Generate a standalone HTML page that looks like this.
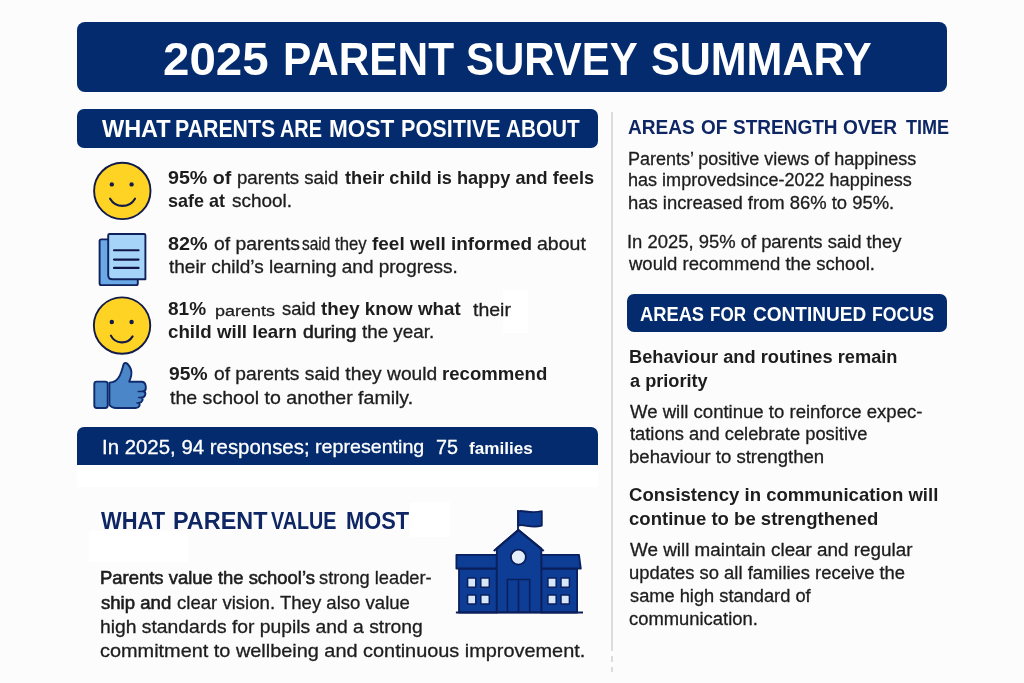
<!DOCTYPE html>
<html lang="en"><head><meta charset="utf-8"><title>2025 Parent Survey Summary</title>
<style>
html,body{margin:0;padding:0}
body{width:1024px;height:683px;position:relative;overflow:hidden;background:#fcfcfc;font-family:"Liberation Sans",Arial,sans-serif;color:#1d1d1d}
.t{position:absolute;white-space:pre;line-height:normal;transform-origin:0 0;margin:0;-webkit-text-stroke:.3px}
.b{font-weight:700;-webkit-text-stroke:0}
.t b{font-weight:700}
.bx{position:absolute;background:#032b6d}
svg{position:absolute;left:0;top:0}
.wp{position:absolute;background:#fff}
.dv{position:absolute;left:611.4px;width:1.3px;background:#dcdcdc}
</style></head><body>
<div class="wp" style="left:77px;top:465px;width:521px;height:22px"></div>
<div class="wp" style="left:89px;top:531px;width:99px;height:31px"></div>
<div class="wp" style="left:410px;top:502px;width:40px;height:35px"></div>
<div class="wp" style="left:503px;top:290px;width:25px;height:43px"></div>
<div class="bx" style="left:77px;top:22px;width:870px;height:70px;border-radius:8px"></div>
<div class="bx" style="left:77px;top:108.5px;width:520.5px;height:39px;border-radius:7px"></div>
<div class="bx" style="left:77px;top:426.6px;width:520.5px;height:38.6px;border-radius:7px 7px 0 0"></div>
<div class="bx" style="left:627.3px;top:294.2px;width:319.7px;height:37.5px;border-radius:7px"></div>
<div class="dv" style="top:112px;height:539px"></div>
<div class="dv" style="top:656px;height:6px"></div>
<div class="dv" style="top:667px;height:5px"></div>
<svg width="1024" height="683" viewBox="0 0 1024 683">
<!-- smileys -->
<g stroke="#121a4a" stroke-width="1.9" fill="none" stroke-linecap="round">
<circle cx="122.3" cy="190.9" r="28.2" fill="#ffd324"/>
<circle cx="111.8" cy="184.4" r="1.5" fill="#121a4a" stroke-width="1.4"/>
<circle cx="131.6" cy="184.4" r="1.5" fill="#121a4a" stroke-width="1.4"/>
<path d="M110.1 198.7 A14.4 14.4 0 0 0 135 198.7" stroke-width="2.1"/>
<circle cx="122.05" cy="325.6" r="28.2" fill="#ffd324"/>
<circle cx="111.8" cy="322" r="1.5" fill="#121a4a" stroke-width="1.4"/>
<circle cx="131.6" cy="322" r="1.5" fill="#121a4a" stroke-width="1.4"/>
<path d="M110.9 335.6 A12.4 12.4 0 0 0 132.6 336.4" stroke-width="2.1"/>
</g>
<!-- doc -->
<g stroke="#10205a" stroke-width="1.9" stroke-linejoin="round">
<rect x="99.6" y="239.4" width="38.2" height="45.7" rx="1.6" fill="#6aa9e6"/>
<path d="M109.6 234H144.1Q145.4 234 145.4 235.3V279.3H112.2Q108.2 279.3 108.2 275.3V235.3Q108.2 234 109.6 234Z" fill="#a6d4f8"/>
<path d="M114 250.3H138.6M114 259.6H138.6M114 267.9H138.6" stroke="#10164a" stroke-width="2.1" stroke-linecap="round" fill="none"/>
</g>
<!-- thumb -->
<g stroke="#0f2b6b" stroke-width="1.9" stroke-linejoin="round" fill="#4a86c8">
<rect x="94.3" y="381.6" width="13.4" height="26.4" rx="2.4"/>
<path d="M109.4 382.6 C113.6 382.6 117.4 380.4 119.8 375.6 C121.8 371.6 122.6 367.4 123.5 364.6 C124.2 362.5 126.4 362.8 127.6 364 C130.8 367.4 132 372 131.2 375.6 C130.7 378 129.8 380 129.2 381.7 L141.4 381.7 C146.8 381.7 147 390.6 143.4 391.3 C146.4 392 146 397.2 141.6 397.6 C143.4 398.6 142.8 402.6 139 402.9 C140.4 404 139.8 407.9 135.8 408 L116 408 C112.5 408 110.6 406.5 109.4 405 Z"/>
<path d="M138.2 391.4H143.4M138.6 397.6H141.6M137 402.9H139" fill="none" stroke-width="1.5" stroke-linecap="round"/>
</g>
<!-- school -->
<g stroke="#0a1f5c" stroke-width="1.8" stroke-linejoin="round" fill="#0d3d94">
<path d="M518 530V510"/>
<path d="M518.2 511.3 C523.5 509.6 530 514.4 541.8 511.2 V525.6 C531 528.8 524 523.6 518.2 525.6 Z"/>
<rect x="459" y="568.5" width="37.8" height="44"/>
<rect x="541.3" y="568.5" width="35.8" height="44"/>
<path d="M456.4 554.8H496.8V568.5H456.4Z"/>
<path d="M541.3 554.8H579L580.8 568.5H541.3Z"/>
<path d="M496.8 612.4V548.5L518.4 530L541.3 548.5V612.4Z"/>
<path d="M493.8 551 L518.4 530 L543.7 551" fill="none" stroke-width="2.2"/>
<circle cx="518.4" cy="557.1" r="7.5" fill="#e4eefb" stroke-width="1.9"/>
<path d="M507.4 612.4V579.4H529.7V612.4M518.5 579.4V612.4" fill="none" stroke-width="1.5"/>
<g fill="#d6e7f9" stroke-width="1.5">
<rect x="467.6" y="578" width="8.2" height="9.3"/><rect x="480.8" y="578" width="8.5" height="9.3"/>
<rect x="467.6" y="595" width="8.2" height="9"/><rect x="480.8" y="595" width="8.5" height="9"/>
<rect x="547.9" y="578" width="8.3" height="9.3"/><rect x="561" y="578" width="8.4" height="9.3"/>
<rect x="547.9" y="595" width="8.3" height="9"/><rect x="561" y="595" width="8.4" height="9"/>
</g>
<path d="M455.9 612.4H583" stroke-width="2"/>
</g>
</svg>

<div class="t b" style="left:162.86px;top:31.90px;font-size:46.3px;color:#fff;transform:scaleX(1.0254)">2025</div>
<div class="t b" style="left:282.95px;top:31.90px;font-size:46.3px;color:#fff;transform:scaleX(0.9155)">PARENT</div>
<div class="t b" style="left:466.17px;top:31.90px;font-size:46.3px;color:#fff;transform:scaleX(0.9065)">SURVEY</div>
<div class="t b" style="left:650.54px;top:31.90px;font-size:46.3px;color:#fff;transform:scaleX(0.9294)">SUMMARY</div>
<div class="t b" style="left:101.60px;top:115.80px;font-size:23.2px;color:#fff;transform:scaleX(1.0125)">WHAT</div>
<div class="t b" style="left:174.82px;top:115.80px;font-size:23.2px;color:#fff;transform:scaleX(0.9190)">PARENTS</div>
<div class="t b" style="left:280.47px;top:115.80px;font-size:23.2px;color:#fff;transform:scaleX(0.8565)">ARE</div>
<div class="t b" style="left:328.94px;top:115.80px;font-size:23.2px;color:#fff;transform:scaleX(0.9740)">MOST</div>
<div class="t b" style="left:400.70px;top:115.80px;font-size:23.2px;color:#fff;transform:scaleX(0.9327)">POSITIVE</div>
<div class="t b" style="left:506.45px;top:115.80px;font-size:23.2px;color:#fff;transform:scaleX(0.8942)">ABOUT</div>
<div class="t b" style="left:168.45px;top:167.79px;font-size:17.8px;transform:scaleX(1.1053)">95% of</div>
<div class="t" style="left:237.35px;top:167.79px;font-size:17.8px;transform:scaleX(1.0474)">parents said</div>
<div class="t b" style="left:345.20px;top:167.79px;font-size:17.8px;transform:scaleX(1.0205)">their child is happy and feels</div>
<div class="t b" style="left:168.49px;top:191.49px;font-size:17.8px;transform:scaleX(1.0135)">safe at</div>
<div class="t" style="left:232.33px;top:191.49px;font-size:17.8px;transform:scaleX(1.0642)">school.</div>
<div class="t b" style="left:168.44px;top:234.09px;font-size:17.8px;transform:scaleX(1.1137)">82%</div>
<div class="t" style="left:214.26px;top:234.09px;font-size:17.8px;transform:scaleX(1.0872)">of parents</div>
<div class="t" style="left:302.18px;top:234.09px;font-size:17.8px;transform:scaleX(0.8667)">said</div>
<div class="t" style="left:335.10px;top:234.09px;font-size:17.8px;transform:scaleX(0.9363)">they</div>
<div class="t b" style="left:372.43px;top:234.09px;font-size:17.8px;transform:scaleX(1.0658)">feel well informed</div>
<div class="t" style="left:537.35px;top:234.09px;font-size:17.8px;transform:scaleX(1.0977)">about</div>
<div class="t" style="left:169.00px;top:257.09px;font-size:17.8px;transform:scaleX(1.0680)">their child’s learning and progress.</div>
<div class="t b" style="left:168.46px;top:299.09px;font-size:17.8px;transform:scaleX(1.0705)">81%</div>
<div class="t" style="left:215.03px;top:301.66px;font-size:15.4px;transform:scaleX(1.1662)">parents</div>
<div class="t" style="left:282.24px;top:299.09px;font-size:17.8px;transform:scaleX(1.0349)">said</div>
<div class="t b" style="left:321.10px;top:299.09px;font-size:17.8px;transform:scaleX(1.0548)">they know what</div>
<div class="t" style="left:472.80px;top:299.89px;font-size:17.8px;transform:scaleX(1.0957)">their</div>
<div class="t b" style="left:168.47px;top:322.39px;font-size:17.8px;transform:scaleX(1.0529)">child will learn</div>
<div class="t" style="left:302.96px;top:322.39px;font-size:17.8px;-webkit-text-stroke:.6px;transform:scaleX(1.0833)">during</div>
<div class="t" style="left:362.00px;top:322.39px;font-size:17.8px;transform:scaleX(1.0577)">the year.</div>
<div class="t b" style="left:169.16px;top:364.49px;font-size:17.8px;transform:scaleX(1.0820)">95%</div>
<div class="t" style="left:214.26px;top:364.49px;font-size:17.8px;transform:scaleX(1.0805)">of parents said they would</div>
<div class="t b" style="left:442.36px;top:364.49px;font-size:17.8px;transform:scaleX(1.0441)">recommend</div>
<div class="t" style="left:169.70px;top:388.49px;font-size:17.8px;transform:scaleX(1.0998)">the school to another family.</div>
<div class="t" style="left:102.02px;top:436.10px;font-size:20px;color:#fff;transform:scaleX(1.0200)">In 2025, 94 responses;</div>
<div class="t" style="left:315.37px;top:435.81px;font-size:19px;color:#fff;transform:scaleX(1.0348)">representing</div>
<div class="t" style="left:436.24px;top:436.26px;font-size:19.6px;color:#fff;transform:scaleX(1.0074)">75</div>
<div class="t b" style="left:468.80px;top:439.72px;font-size:16px;color:#fff;transform:scaleX(1.0712)">families</div>
<div class="t b" style="left:100.60px;top:507.31px;font-size:24.3px;color:#0e2664;transform:scaleX(0.9028)">WHAT</div>
<div class="t b" style="left:172.56px;top:507.31px;font-size:24.3px;color:#0e2664;transform:scaleX(0.9627)">PARENT</div>
<div class="t b" style="left:270.90px;top:507.31px;font-size:24.3px;color:#0e2664;transform:scaleX(0.8125)">VALUE</div>
<div class="t b" style="left:345.95px;top:507.31px;font-size:24.3px;color:#0e2664;transform:scaleX(0.8993)">MOST</div>
<div class="t" style="left:99.73px;top:568.23px;font-size:18.2px;-webkit-text-stroke:.6px;transform:scaleX(1.0140)">Parents value the school’s</div>
<div class="t" style="left:319.10px;top:568.23px;font-size:18.2px;transform:scaleX(1.0036)">strong leader-</div>
<div class="t" style="left:100.74px;top:592.53px;font-size:18.2px;-webkit-text-stroke:.6px;transform:scaleX(1.0214)">ship and</div>
<div class="t" style="left:176.99px;top:592.53px;font-size:18.2px;transform:scaleX(1.0211)">clear vision. They also value</div>
<div class="t" style="left:99.94px;top:616.73px;font-size:18.2px;transform:scaleX(1.0607)">high standards for pupils and a strong</div>
<div class="t" style="left:100.45px;top:640.63px;font-size:18.2px;transform:scaleX(1.0934)">commitment to wellbeing and continuous improvement.</div>
<div class="t b" style="left:627.84px;top:115.47px;font-size:20.7px;color:#0e2664;transform:scaleX(0.9221)">AREAS</div>
<div class="t b" style="left:700.61px;top:115.47px;font-size:20.7px;color:#0e2664;transform:scaleX(0.9138)">OF</div>
<div class="t b" style="left:733.44px;top:115.47px;font-size:20.7px;color:#0e2664;transform:scaleX(0.9187)">STRENGTH</div>
<div class="t b" style="left:843.41px;top:115.47px;font-size:20.7px;color:#0e2664;transform:scaleX(0.9235)">OVER</div>
<div class="t b" style="left:905.50px;top:115.47px;font-size:20.7px;color:#0e2664;transform:scaleX(0.8718)">TIME</div>
<div class="t" style="left:627.55px;top:148.71px;font-size:18px;transform:scaleX(0.9995)">Parents’ positive views of happiness</div>
<div class="t" style="left:627.80px;top:170.41px;font-size:18px;transform:scaleX(1.0023)">has improvedsince-2022 happiness</div>
<div class="t" style="left:627.78px;top:192.71px;font-size:18px;transform:scaleX(1.0231)">has increased from 86% to 95%.</div>
<div class="t" style="left:627.27px;top:232.31px;font-size:18px;transform:scaleX(1.0231)">In 2025, 95% of parents said they</div>
<div class="t" style="left:629.06px;top:254.11px;font-size:18px;transform:scaleX(1.0286)">would recommend the school.</div>
<div class="t b" style="left:640.46px;top:302.16px;font-size:20.6px;color:#fff;transform:scaleX(0.8887)">AREAS</div>
<div class="t b" style="left:710.26px;top:302.16px;font-size:20.6px;color:#fff;transform:scaleX(0.8286)">FOR</div>
<div class="t b" style="left:753.11px;top:302.16px;font-size:20.6px;color:#fff;transform:scaleX(0.9248)">CONTINUED</div>
<div class="t b" style="left:872.23px;top:302.16px;font-size:20.6px;color:#fff;transform:scaleX(0.8598)">FOCUS</div>
<div class="t b" style="left:628.79px;top:347.41px;font-size:18px;transform:scaleX(1.0129)">Behaviour and routines remain</div>
<div class="t b" style="left:629.55px;top:370.81px;font-size:18px;transform:scaleX(1.0085)">a priority</div>
<div class="t" style="left:629.80px;top:402.41px;font-size:18px;transform:scaleX(1.0305)">We will continue to reinforce expec-</div>
<div class="t" style="left:629.80px;top:424.31px;font-size:18px;transform:scaleX(1.0181)">tations and celebrate positive</div>
<div class="t" style="left:628.77px;top:447.41px;font-size:18px;transform:scaleX(1.0318)">behaviour to strengthen</div>
<div class="t b" style="left:629.30px;top:483.57px;font-size:18.6px;transform:scaleX(0.9979)">Consistency in communication will</div>
<div class="t b" style="left:629.30px;top:508.37px;font-size:18.6px;transform:scaleX(0.9972)">continue to be strengthened</div>
<div class="t" style="left:629.80px;top:540.41px;font-size:18px;transform:scaleX(1.0469)">We will maintain clear and regular</div>
<div class="t" style="left:628.78px;top:563.31px;font-size:18px;transform:scaleX(1.0220)">updates so all families receive the</div>
<div class="t" style="left:629.55px;top:586.31px;font-size:18px;transform:scaleX(1.0140)">same high standard of</div>
<div class="t" style="left:629.29px;top:609.21px;font-size:18px;transform:scaleX(1.0218)">communication.</div>
</body></html>
